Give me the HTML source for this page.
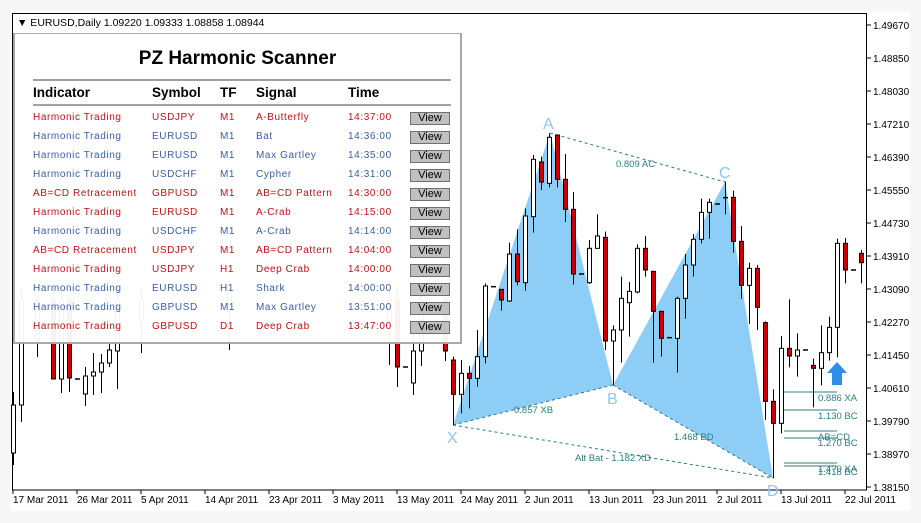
<!DOCTYPE html>
<html><head><meta charset="utf-8"><style>
body{margin:0;background:#f7f7f7;width:921px;height:523px;overflow:hidden;font-family:"Liberation Sans",sans-serif}
svg{position:absolute;left:0;top:0}
#panel{position:absolute;left:13px;top:33px;width:445px;height:308px;background:rgba(255,255,255,0.95);border-right:2px solid #a8a8a8;border-bottom:2px solid #a8a8a8;border-left:2px solid #a8a8a8;border-top:1px solid #a8a8a8}
#panel .t{position:absolute;left:0;width:445px;top:14px;text-align:center;font-weight:bold;font-size:19px;color:#000}
.hl{position:absolute;left:18px;width:418px;height:2px;background:#a0a0a0}
.h{position:absolute;top:51px;font-weight:bold;font-size:13.5px;color:#000}
.r{position:absolute;font-size:10px;letter-spacing:0.6px;white-space:nowrap}
.red{color:#c41010}.blu{color:#3a5ea8}
.b{position:absolute;left:395px;width:38px;height:11px;background:#c0c0c0;border:1px solid #707070;font-size:11px;line-height:11px;text-align:center;color:#000}
</style></head><body>
<svg id="s" width="921" height="523" xmlns="http://www.w3.org/2000/svg"></svg>
<div id="panel">
<div class="t">PZ Harmonic Scanner</div>
<div class="hl" style="top:45px"></div>
<div class="hl" style="top:70px"></div>
<div class="h" style="left:18px">Indicator</div>
<div class="h" style="left:137px">Symbol</div>
<div class="h" style="left:205px">TF</div>
<div class="h" style="left:241px">Signal</div>
<div class="h" style="left:333px">Time</div>
<div id="rows"></div>
</div>
<script>
var rows=[["red","Harmonic Trading","USDJPY","M1","A-Butterfly","14:37:00"],
["blu","Harmonic Trading","EURUSD","M1","Bat","14:36:00"],
["blu","Harmonic Trading","EURUSD","M1","Max Gartley","14:35:00"],
["blu","Harmonic Trading","USDCHF","M1","Cypher","14:31:00"],
["red","AB=CD Retracement","GBPUSD","M1","AB=CD Pattern","14:30:00"],
["red","Harmonic Trading","EURUSD","M1","A-Crab","14:15:00"],
["blu","Harmonic Trading","USDCHF","M1","A-Crab","14:14:00"],
["red","AB=CD Retracement","USDJPY","M1","AB=CD Pattern","14:04:00"],
["red","Harmonic Trading","USDJPY","H1","Deep Crab","14:00:00"],
["blu","Harmonic Trading","EURUSD","H1","Shark","14:00:00"],
["blu","Harmonic Trading","GBPUSD","M1","Max Gartley","13:51:00"],
["red","Harmonic Trading","GBPUSD","D1","Deep Crab","13:47:00"]];
var h="",xs=[18,137,205,241,333];
rows.forEach(function(r,i){var y=78+i*19;
for(var k=0;k<5;k++)h+='<div class="r '+r[0]+'" style="left:'+xs[k]+'px;top:'+y+'px">'+r[k+1]+'</div>';
h+='<div class="b" style="top:'+(y)+'px">View</div>';});
document.getElementById("rows").innerHTML=h;

var s="";
s+='<rect x="11" y="11" width="899" height="500" fill="#fff"/>';
s+='<rect x="12.5" y="13.5" width="854" height="476.5" fill="none" stroke="#000" stroke-width="1"/>';
s+='<text x="17" y="26" font-size="10.5" fill="#000">&#9660; EURUSD,Daily  1.09220 1.09333 1.08858 1.08944</text>';
var yl=["1.49670","1.48850","1.48030","1.47210","1.46390","1.45550","1.44730","1.43910","1.43090","1.42270","1.41450","1.40610","1.39790","1.38970","1.38150"];
yl.forEach(function(t,i){var y=25+i*33;s+='<line x1="867" y1="'+y+'" x2="871" y2="'+y+'" stroke="#000"/><text x="873" y="'+(y+4)+'" font-size="10" fill="#000">'+t+'</text>';});
var dl=["17 Mar 2011","26 Mar 2011","5 Apr 2011","14 Apr 2011","23 Apr 2011","3 May 2011","13 May 2011","24 May 2011","2 Jun 2011","13 Jun 2011","23 Jun 2011","2 Jul 2011","13 Jul 2011","22 Jul 2011"];
dl.forEach(function(t,i){var x=13+i*64;s+='<line x1="'+x+'" y1="490" x2="'+x+'" y2="494" stroke="#000"/><text x="'+x+'" y="503" font-size="10" fill="#000">'+t+'</text>';});
s+='<polygon points="453,425 550,133 613,385" fill="#8ecdf5"/><polygon points="613,385 725,182 773,478" fill="#8ecdf5"/>';
var d='stroke="#2a7f80" stroke-dasharray="3,3" stroke-width="1" fill="none"';
s+='<line x1="453" y1="425" x2="613" y2="385" '+d+'/><line x1="550" y1="133" x2="725" y2="182" '+d+'/><line x1="613" y1="385" x2="773" y2="478" '+d+'/><line x1="453" y1="425" x2="773" y2="478" '+d+'/>';
var R=[[453,780,883,770,975,1],[461,820,883,780,940,0],[469,820,835,798,925,1],[477,770,835,690,860,0],[485,558,770,550,790,0],[493,560,560,560,560,1],[501,568,600,568,632,1],[509,462,603,428,606,0],[517,462,545,388,556,1],[525,348,548,325,572,0],[533,178,350,165,398,0],[541,186,246,170,270,1],[549,112,250,100,262,0],[557,105,238,105,262,1],[565,238,328,162,366,1],[573,328,522,276,554,1],[581,522,522,522,522,1],[589,445,548,420,552,0],[597,408,445,343,445,0],[605,412,723,395,750,1],[613,690,723,676,855,0],[621,595,690,530,788,0],[629,574,608,546,710,0],[637,445,576,433,580,0],[645,445,510,408,530,1],[653,514,634,514,788,1],[661,634,715,634,770,1],[669,713,713,713,713,1],[677,595,715,590,818,0],[685,495,595,462,656,0],[693,418,495,402,530,0],[701,337,418,296,430,0],[709,307,337,296,416,0],[717,312,312,312,312,1],[725,293,293,245,343,1],[733,292,424,272,458,1],[741,424,556,378,596,1],[749,505,556,488,672,0],[757,505,622,495,690,1],[765,668,904,664,960,1],[773,904,970,868,1135,1],[781,745,970,708,1000,0],[789,745,768,598,802,1],[797,750,768,700,830,0],[805,750,750,750,750,1],[813,796,805,776,922,1],[821,758,805,676,856,0],[829,682,758,650,782,0],[837,430,682,416,772,0],[845,430,510,414,550,1],[853,510,510,510,510,1],[861,460,488,450,550,1]];
function c(x,t,b,hh,l,r){s+='<line x1="'+(x+.5)+'" y1="'+hh+'" x2="'+(x+.5)+'" y2="'+l+'" stroke="#000"/>';
if(b-t<1.5)s+='<line x1="'+(x-2)+'" y1="'+t+'" x2="'+(x+3)+'" y2="'+t+'" stroke="#000" stroke-width="1.5"/>';
else s+='<rect x="'+(x-1.5)+'" y="'+t+'" width="4" height="'+(b-t)+'" fill="'+(r?'#cc0000':'#fff')+'" stroke="#000"/>';}
R.forEach(function(a){c(a[0],100+a[1]/3,100+a[2]/3,100+a[3]/3,100+a[4]/3,a[5]);});
var L=[[13,405,453,392,465,0],[21,300,405,290,422,0],[37,300,340,290,357,0],[53,300,379,290,379,1],[61,300,379,290,393,0],[69,300,378,290,392,1],[77,379,379,379,379,1],[85,376,394,367,406,0],[93,372,376,353,395,0],[101,363,372,354,393,0],[109,350,363,343,367,0],[117,300,351,290,389,0],[141,300,320,290,353,0],[229,290,310,280,350,0],[389,300,320,290,365,0],[397,300,367,290,387,1],[405,367,367,367,367,1],[413,351,383,330,395,0],[421,300,351,290,366,0],[445,300,351,290,361,1]];
L.forEach(function(a){c(a[0],a[1],a[2],a[3],a[4],a[5]);});
var lb='fill="#8cc8f0" font-size="16"';
s+='<text x="543" y="129" '+lb+'>A</text><text x="607" y="404" '+lb+'>B</text><text x="719" y="178" '+lb+'>C</text><text x="447" y="443" '+lb+'>X</text><text x="767" y="496" '+lb+'>D</text>';
var tl='fill="#2a7f80" font-size="9.5"';
s+='<text x="616" y="167" '+tl+'>0.809 AC</text><text x="514" y="413" '+tl+'>0.857 XB</text><text x="674" y="440" '+tl+'>1.468 BD</text><text x="575" y="461" '+tl+'>Alt Bat - 1.182 XD</text>';
var hz=[[392,"0.886 XA",401],[410,"1.130 BC",419],[431,"AB=CD",440],[438,"1.270 BC",446],[463,"1.4?0 XA",472],[466,"1.418 BC",475]];
hz.forEach(function(a){s+='<line x1="784" y1="'+a[0]+'" x2="837" y2="'+a[0]+'" stroke="#2a7f80"/><text x="818" y="'+a[2]+'" '+tl+'>'+a[1]+'</text>';});
s+='<polygon points="837,362 847,373 842,373 842,385 832,385 832,373 827,373" fill="#2f8fe8"/>';
document.getElementById("s").innerHTML=s;
</script>
</body></html>
